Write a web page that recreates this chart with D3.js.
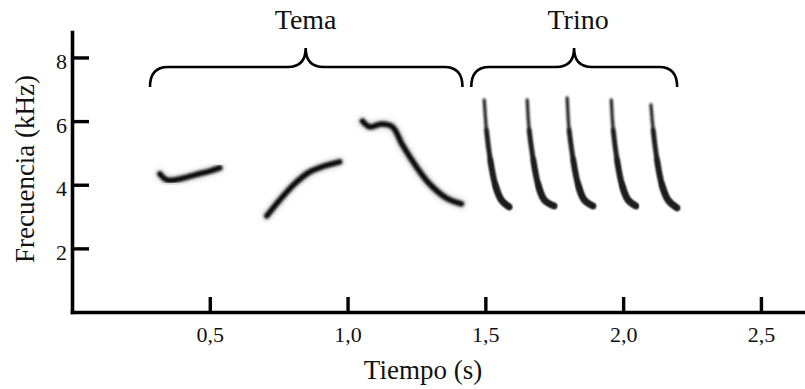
<!DOCTYPE html>
<html>
<head>
<meta charset="utf-8">
<script src="https://cdn.jsdelivr.net/npm/d3@7"></script>
<style>
  body { margin: 0; background: #fff; }
  text { font-family: "Liberation Serif", "Times New Roman", serif; fill: #111; }
</style>
</head>
<body>
<svg id="chart" width="805" height="389"></svg>
<script>
// tick values
const timeTicks = [0.5, 1.0, 1.5, 2.0, 2.5];
const freqTicks = [2, 4, 6, 8];

// song sections (seconds)
const sectionLabels = ["Tema", "Trino"];
const sectionStart = [0.283, 1.449];
const sectionEnd = [1.417, 2.196];
const sectionMid = [0.848, 1.822];

// tema syllables: [time (s), frequency (kHz)]
const syllable1 = [[0.319, 4.34], [0.344, 4.15], [0.391, 4.18], [0.446, 4.31], [0.500, 4.43], [0.536, 4.53]];
const syllable2 = [[0.707, 3.02], [0.754, 3.52], [0.808, 4.03], [0.862, 4.40], [0.917, 4.59], [0.971, 4.72]];
const syllable3 = [[1.054, 6.00], [1.080, 5.82], [1.123, 5.91], [1.163, 5.82], [1.199, 5.25], [1.250, 4.56],
                   [1.297, 4.03], [1.359, 3.58], [1.413, 3.40]];

// trill notes
const note1 = [[1.496, 6.67], [1.504, 5.72], [1.518, 4.78], [1.536, 3.99], [1.558, 3.52], [1.587, 3.30]];
const note2 = [[1.652, 6.67], [1.659, 5.72], [1.674, 4.78], [1.692, 3.99], [1.714, 3.52], [1.750, 3.33]];
const note3 = [[1.797, 6.73], [1.804, 5.72], [1.819, 4.78], [1.837, 3.99], [1.859, 3.52], [1.891, 3.33]];
const note4 = [[1.957, 6.67], [1.964, 5.72], [1.978, 4.78], [1.996, 3.99], [2.018, 3.52], [2.047, 3.33]];
const note5 = [[2.101, 6.51], [2.109, 5.72], [2.123, 4.78], [2.141, 3.99], [2.163, 3.52], [2.196, 3.27]];

const tema = [syllable1, syllable2, syllable3];
const trino = [note1, note2, note3, note4, note5];

const svg = d3.select("#chart");

// scales
const x = d3.scaleLinear().domain([0, 2.66]).range([72, 805]);
const y = d3.scaleLinear().domain([0, 8.8]).range([312, 32]);

const locale = d3.formatLocale({decimal: ",", thousands: ".", grouping: [3], currency: ["", ""]});

// blur filters
const defs = svg.append("defs");
defs.append("filter").attr("id", "soft")
  .attr("x", "-20%").attr("y", "-20%").attr("width", "140%").attr("height", "140%")
  .append("feGaussianBlur").attr("stdDeviation", 0.9);
defs.append("filter").attr("id", "halo")
  .attr("x", "-30%").attr("y", "-30%").attr("width", "160%").attr("height", "160%")
  .append("feGaussianBlur").attr("stdDeviation", 2);

const line = d3.line()
  .x(d => x(d[0]))
  .y(d => y(d[1]))
  .curve(d3.curveCatmullRom);

// tema syllables
const g = svg.append("g");
g.selectAll(".halo")
  .data(tema)
  .enter()
  .append("path")
    .attr("d", line)
    .attr("fill", "none")
    .attr("stroke", "#888")
    .attr("stroke-opacity", 0.45)
    .attr("stroke-width", 9)
    .attr("stroke-linecap", "round")
    .attr("filter", "url(#halo)");
g.selectAll(".core")
  .data(tema)
  .enter()
  .append("path")
    .attr("d", line)
    .attr("fill", "none")
    .attr("stroke", "#111")
    .attr("stroke-width", 5.5)
    .attr("stroke-linecap", "round")
    .attr("filter", "url(#soft)");

// trill notes: thin at the top, thicker towards the hook
const trillLayers = [[0, 3.2], [1, 4.0], [2, 4.8], [3, 5.4]];
trillLayers.forEach(([from, w]) => {
  g.append("g")
    .selectAll("path")
    .data(trino.map(n => n.slice(from)))
    .enter()
    .append("path")
      .attr("d", line)
      .attr("fill", "none")
      .attr("stroke", "#1c1c1c")
      .attr("stroke-width", w)
      .attr("stroke-linecap", "round")
      .attr("filter", "url(#soft)");
});

// axes
const yAxis = svg.append("g")
  .attr("transform", `translate(${x(0)},0)`)
  .call(d3.axisLeft(y).tickValues(freqTicks).tickSizeInner(-17).tickSizeOuter(0).tickPadding(5)
    .tickFormat(d3.format("d")));
const xAxis = svg.append("g")
  .attr("transform", `translate(0,${y(0)})`)
  .call(d3.axisBottom(x).tickValues(timeTicks).tickSizeInner(-15).tickSizeOuter(0).tickPadding(14)
    .tickFormat(locale.format(".1f")));

[yAxis, xAxis].forEach(a => {
  a.attr("font-family", null).attr("font-size", null);
  a.select(".domain").attr("stroke", "#000").attr("stroke-width", 3.6).attr("stroke-linecap", "square");
  a.selectAll(".tick line").attr("stroke", "#000").attr("stroke-width", 3.4);
  a.selectAll(".tick text")
    .style("font-size", "22px")
    .attr("fill", "#111");
});
yAxis.selectAll(".tick text").attr("dy", "0.5em");

// axis titles
svg.append("text")
  .attr("transform", `translate(34,${(y(0) + 32) / 2 - 3}) rotate(-90)`)
  .attr("text-anchor", "middle")
  .style("font-size", "27px")
  .text("Frecuencia (kHz)");
svg.append("text")
  .attr("x", 423)
  .attr("y", 379)
  .attr("text-anchor", "middle")
  .style("font-size", "27px")
  .text("Tiempo (s)");

// braces over the sections
const braceEndY = 87, braceBarY = 67, braceTipY = 48, r = 18;
function bracePath(i) {
  const x0 = x(sectionStart[i]), x1 = x(sectionEnd[i]), xm = x(sectionMid[i]);
  return `M${x0},${braceEndY} Q${x0},${braceBarY} ${x0 + r},${braceBarY} ` +
    `L${xm - r},${braceBarY} Q${xm},${braceBarY} ${xm},${braceTipY} ` +
    `Q${xm},${braceBarY} ${xm + r},${braceBarY} ` +
    `L${x1 - r},${braceBarY} Q${x1},${braceBarY} ${x1},${braceEndY}`;
}
svg.append("g")
  .selectAll("path")
  .data(sectionLabels)
  .enter()
  .append("path")
    .attr("d", (d, i) => bracePath(i))
    .attr("fill", "none")
    .attr("stroke", "#000")
    .attr("stroke-width", 2.6);
svg.append("g")
  .selectAll("text")
  .data(sectionLabels)
  .enter()
  .append("text")
    .attr("x", (d, i) => x(sectionMid[i]) + (i === 1 ? 4 : 0))
    .attr("y", 29)
    .attr("text-anchor", "middle")
    .style("font-size", "28px")
    .text(d => d);
</script>
</body>
</html>
